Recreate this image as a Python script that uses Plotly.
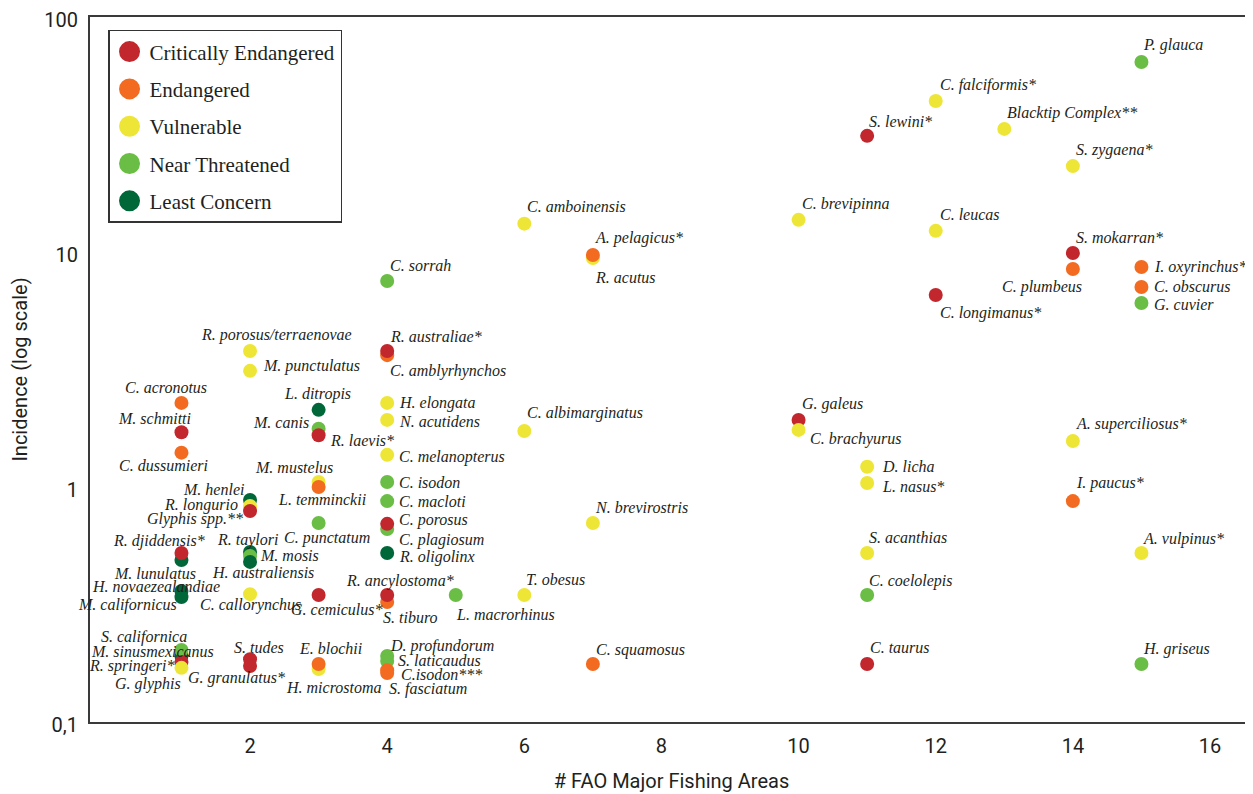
import math
import plotly.graph_objects as go

# ---------------- data ----------------
species = [
    # 1 area
    "C. acronotus", "M. schmitti", "C. dussumieri", "M. lunulatus", "R. djiddensis*",
    "H. novaezealandiae", "M. californicus", "M. sinusmexicanus", "S. californica",
    "R. springeri*", "G. glyphis",
    # 2 areas
    "R. porosus/terraenovae", "M. punctulatus", "M. henlei", "R. longurio", "Glyphis spp.**",
    "R. taylori", "M. mosis", "H. australiensis", "C. callorynchus", "S. tudes", "G. granulatus*",
    # 3 areas
    "L. ditropis", "M. canis", "R. laevis*", "M. mustelus", "L. temminckii", "C. punctatum",
    "G. cemiculus*", "H. microstoma", "E. blochii",
    # 4 areas
    "C. sorrah", "C. amblyrhynchos", "R. australiae*", "H. elongata", "N. acutidens",
    "C. melanopterus", "C. isodon", "C. macloti", "C. plagiosum", "C. porosus", "R. oligolinx",
    "S. tiburo", "R. ancylostoma*", "D. profundorum", "S. laticaudus", "C.isodon***", "S. fasciatum",
    # 5 - 7 areas
    "L. macrorhinus", "C. amboinensis", "C. albimarginatus", "T. obesus",
    "R. acutus", "A. pelagicus*", "N. brevirostris", "C. squamosus",
    # 10 - 13 areas
    "C. brevipinna", "G. galeus", "C. brachyurus",
    "S. lewini*", "D. licha", "L. nasus*", "S. acanthias", "C. coelolepis", "C. taurus",
    "C. falciformis*", "C. leucas", "C. longimanus*", "Blacktip Complex**",
    # 14 - 15 areas
    "S. zygaena*", "S. mokarran*", "C. plumbeus", "A. superciliosus*", "I. paucus*",
    "P. glauca", "I. oxyrinchus*", "C. obscurus", "G. cuvier", "A. vulpinus*", "H. griseus",
]

fao_areas = [
    1, 1, 1, 1, 1, 1, 1, 1, 1, 1, 1,
    2, 2, 2, 2, 2, 2, 2, 2, 2, 2, 2,
    3, 3, 3, 3, 3, 3, 3, 3, 3,
    4, 4, 4, 4, 4, 4, 4, 4, 4, 4, 4, 4, 4, 4, 4, 4, 4,
    5, 6, 6, 6, 7, 7, 7, 7,
    10, 10, 10, 11, 11, 11, 11, 11, 11, 12, 12, 12, 13,
    14, 14, 14, 14, 14, 15, 15, 15, 15, 15, 15,
]

incidence = [
    2.28, 1.71, 1.40, 0.489, 0.524, 0.361, 0.340, 0.191, 0.2025, 0.180, 0.170,
    3.79, 3.12, 0.880, 0.830, 0.790, 0.529, 0.509, 0.480, 0.350, 0.185, 0.173,
    2.13, 1.77, 1.66, 1.05, 1.00, 0.703, 0.347, 0.168, 0.1765,
    7.53, 3.64, 3.79, 2.28, 1.93, 1.37, 1.05, 0.871, 0.663, 0.697, 0.524,
    0.324, 0.347, 0.191, 0.182, 0.166, 0.1616,
    0.347, 13.2, 1.73, 0.347, 9.43, 9.71, 0.703, 0.1765,
    13.7, 1.93, 1.75, 31.2, 1.22, 1.04, 0.524, 0.347, 0.1765, 43.9, 12.3, 6.56, 33.4,
    23.2, 9.90, 8.47, 1.57, 0.871, 64.3, 8.63, 7.10, 6.07, 0.524, 0.1765,
]

status = [
    "EN", "CR", "EN", "LC", "CR", "LC", "LC", "LC", "NT", "CR", "VU",
    "VU", "VU", "LC", "VU", "CR", "LC", "NT", "LC", "VU", "CR", "CR",
    "LC", "NT", "CR", "VU", "EN", "NT", "CR", "VU", "EN",
    "NT", "EN", "CR", "VU", "VU", "VU", "NT", "NT", "NT", "CR", "LC",
    "EN", "CR", "NT", "NT", "EN", "EN",
    "NT", "VU", "VU", "VU", "VU", "EN", "VU", "EN",
    "VU", "CR", "VU", "CR", "VU", "VU", "VU", "NT", "CR", "VU", "VU", "CR", "VU",
    "VU", "CR", "EN", "VU", "EN", "NT", "EN", "EN", "NT", "VU", "NT",
]

status_names = ["Critically Endangered", "Endangered", "Vulnerable", "Near Threatened", "Least Concern"]
status_codes = ["CR", "EN", "VU", "NT", "LC"]
status_colors = ["#C1272D", "#F26B21", "#EEE637", "#6ABD45", "#006838"]

x_ticks = [2, 4, 6, 8, 10, 12, 14, 16]
y_ticks = [0.1, 1, 10, 100]
y_tick_text = ["0,1", "1", "10", "100"]

# label placement relative to each point: (anchor, x shift px, y shift px)
label_layout = [
    ("center", -15, 15), ("center", -27, 14), ("center", -18, -13), ("center", -26, -13),
    ("center", -22, 12), ("center", -25, 4), ("right", -2, -8), ("center", -29, 4),
    ("center", -37, 13), ("right", -5, -4), ("center", -33, -16),
    ("center", 26, 16), ("left", 11, 5), ("right", -4, 11), ("right", -10, 1), ("right", -5, -8),
    ("center", -3, 12), ("left", 8, 0), ("center", 13, -11), ("center", 0, -11),
    ("center", 9, 12), ("center", -14, -12),
    ("center", -1, 16), ("right", -8, 6), ("left", 9, -5), ("center", -25, 15), ("center", 3, -12),
    ("center", 8, -15), ("center", 18, -14), ("center", 15, -18), ("center", 12, 16),
    ("left", 1, 15), ("left", 1, -16), ("left", 1, 15), ("left", 10, 0), ("left", 10, -2),
    ("left", 10, -2), ("left", 10, 0), ("left", 10, 0), ("left", 10, -11), ("left", 10, 4),
    ("left", 10, -4), ("center", 23, -15), ("center", 13, 14), ("left", 1, 10), ("left", 9, 0),
    ("left", 12, -4), ("left", 0, -16),
    ("left", -2, -19), ("left", 1, 17), ("left", 1, 18), ("left", 0, 16),
    ("left", 0, -20), ("left", 0, 17), ("left", 0, 15), ("left", 1, 14),
    ("left", 1, 16), ("left", 1, 16), ("left", 9, -9),
    ("left", 0, 14), ("left", 13, 0), ("left", 13, -3), ("left", 0, 15), ("left", 0, 14),
    ("left", 1, 17), ("left", 2, 16), ("left", 2, 16), ("left", 2, -18), ("left", 1, 16),
    ("left", 1, 16), ("left", 1, 16), ("right", 11, -18), ("left", 1, 17), ("left", 1, 18),
    ("left", 0, 17), ("left", 11, 0), ("left", 11, 0), ("left", 11, -2), ("left", 0, 14),
    ("left", 0, 15),
]

# ---------------- figure ----------------
color_of = dict(zip(status_codes, status_colors))
point_colors = [color_of[s] for s in status]

fig = go.Figure()

fig.add_trace(go.Scatter(
    x=fao_areas, y=incidence, mode="markers",
    marker=dict(size=14, color=point_colors, line=dict(width=0)),
    text=species, hovertemplate="%{text}<br>%{x} areas<br>%{y}<extra></extra>",
    showlegend=False,
))

for name, code, col in zip(status_names, status_codes, status_colors):
    fig.add_trace(go.Scatter(
        x=[None], y=[None], mode="markers", name=name, legendgroup=code,
        marker=dict(size=16, color=col, line=dict(color=col, width=5)),
    ))

annotations = []
for sp, xa, yv, (anc, dx, dy) in zip(species, fao_areas, incidence, label_layout):
    annotations.append(dict(
        x=xa, y=math.log10(yv), xref="x", yref="y", text="<i>" + sp + "</i>", showarrow=False,
        xanchor=anc, yanchor="middle", xshift=dx, yshift=dy,
        font=dict(family="Liberation Serif, Times New Roman, serif", size=16, color="#231F20"),
    ))

axis_font = dict(family="Liberation Sans Narrow, Arial Narrow, Roboto, sans-serif", size=20, color="#231F20")

# the page body adds an 8px margin, so the figure is sized to fill the rest of the window
fig.update_layout(
    width=1245, height=786,
    margin=dict(l=82, r=0, t=9, b=72, autoexpand=False),
    paper_bgcolor="white", plot_bgcolor="white",
    annotations=annotations,
    legend=dict(
        x=0.0155, y=0.9816, xanchor="left", yanchor="top",
        bordercolor="#333333", borderwidth=1.5, bgcolor="white",
        font=dict(family="Liberation Serif, Times New Roman, serif", size=21, color="#231F20"),
        tracegroupgap=7, itemsizing="trace",
    ),
    xaxis=dict(
        range=[-0.334, 16.627], tickvals=x_ticks, showgrid=False, zeroline=False,
        showline=True, linecolor="#3a3a3a", linewidth=2, mirror=True, automargin=False,
        ticks="outside", ticklen=5, tickcolor="rgba(0,0,0,0)", tickfont=axis_font,
        title=dict(text="# FAO Major Fishing Areas", font=axis_font, standoff=17),
    ),
    yaxis=dict(
        type="log", range=[-1, 2], tickvals=y_ticks, ticktext=y_tick_text,
        showgrid=False, zeroline=False, showline=True, linecolor="#3a3a3a", linewidth=2,
        automargin=False, ticklabeloverflow="allow", ticklabelshift=3,
        ticks="outside", ticklen=6, tickcolor="rgba(0,0,0,0)", tickfont=axis_font,
        title=dict(text="Incidence (log scale)", font=axis_font, standoff=15),
    ),
)

fig.write_html("out.html")
